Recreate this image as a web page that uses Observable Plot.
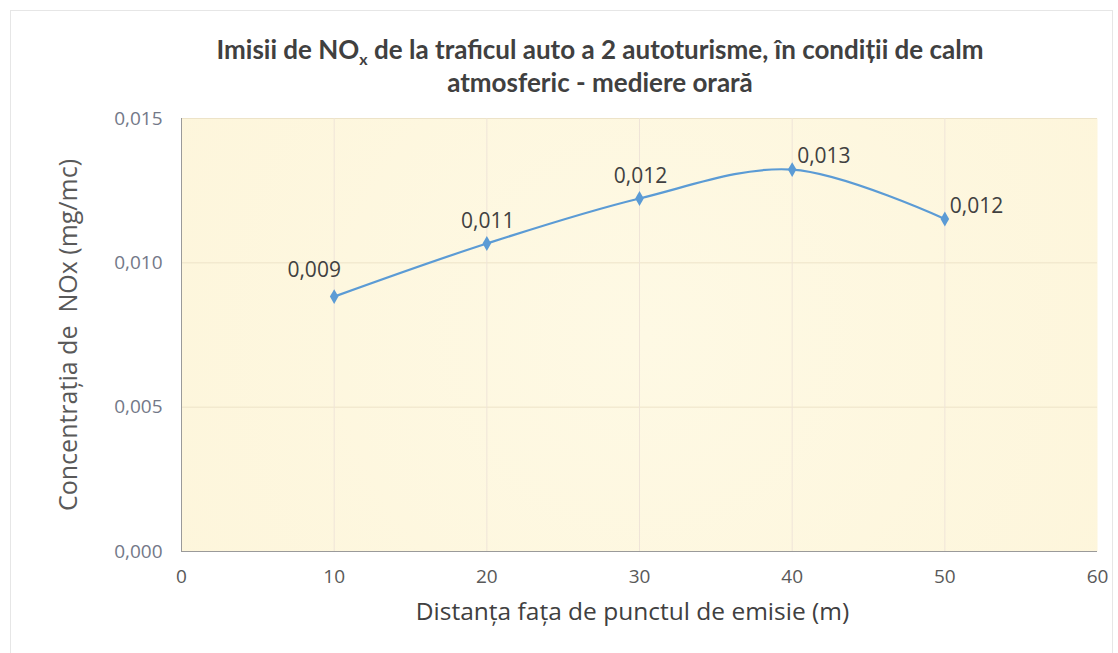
<!DOCTYPE html>
<html><head><meta charset="utf-8">
<script src="https://cdn.jsdelivr.net/npm/d3@7"></script>
<script src="https://cdn.jsdelivr.net/npm/@observablehq/plot@0.6"></script>
<style>
body{margin:0;background:#fff;width:1118px;height:653px;overflow:hidden;font-family:"Open Sans",sans-serif;position:relative;}
#frame{position:absolute;left:10px;top:10px;width:1103px;height:660px;border:1px solid #e6e6e6;box-sizing:border-box;}
#title{position:absolute;left:0;top:33px;width:1200px;text-align:center;font-family:Lato,sans-serif;font-weight:bold;font-size:26px;line-height:33px;color:#404040;}
#title sub{font-size:16px;vertical-align:-6px;line-height:0;}
#chart{position:absolute;left:0;top:105px;}
</style></head><body>
<div id="frame"></div>
<div id="title">Imisii de NO<sub>x</sub> de la traficul auto a 2 autoturisme, în condiții de calm<br>atmosferic - mediere orară</div>
<div id="chart"></div>
<script>
const distances = [10, 20, 30, 40, 50];
const concentrations = [0.00883, 0.01067, 0.01223, 0.01323, 0.01152];
const valueLabels = ["0,009", "0,011", "0,012", "0,013", "0,012"];
const xTicks = [0, 10, 20, 30, 40, 50, 60];
const yTicks = [0, 0.005, 0.010, 0.015];
const xTitle = "Distanța fața de punctul de emisie (m)";
const yTitle = "Concentrația de  NOx (mg/mc)";

const data = distances.map((x, i) => ({x, y: concentrations[i], label: valueLabels[i]}));
const fmtY = d => d3.format(".3f")(d).replace(".", ",");
const blue = "#5b9bd5";
const font = "'Open Sans', sans-serif";

const chart = Plot.plot({
  width: 1118,
  height: 548,
  marginTop: 13,
  marginBottom: 102,
  marginLeft: 181,
  marginRight: 21,
  style: {fontFamily: font, background: "transparent", overflow: "visible"},
  x: {domain: [0, 60]},
  y: {domain: [0, 0.015]},
  marks: [
    Plot.frame({fill: "url(#bgGrad)", stroke: "none"}),
    Plot.gridY(yTicks.filter(d => d > 0), {stroke: "#ede3c8", strokeOpacity: 1}),
    Plot.gridX(xTicks.filter(d => d > 0 && d < 60), {stroke: "#efe4d8", strokeOpacity: 1}),
    Plot.ruleX([0], {stroke: "#9a9a9a", strokeWidth: 1}),
    Plot.ruleY([0], {stroke: "#9a9a9a", strokeWidth: 1}),
    Plot.axisY({ticks: yTicks, tickFormat: fmtY, tickSize: 0, tickPadding: 19, fontSize: 19, fill: "#737888", label: null}),
    Plot.axisX({ticks: xTicks, tickFormat: d => String(d), tickSize: 0, tickPadding: 18, fontSize: 19, fill: "#595959", label: null}),
    Plot.text([yTitle], {frameAnchor: "left", textAnchor: "middle", lineAnchor: "middle", rotate: -90, dx: -113, fontSize: 25, fill: "#595959"}),
    Plot.text([xTitle], {frameAnchor: "bottom", textAnchor: "middle", lineAnchor: "middle", dx: -7, dy: 61, fontSize: 24.5, fill: "#404040"}),
    Plot.line(data, {x: "x", y: "y", curve: "catmull-rom", stroke: blue, strokeWidth: 2.2}),
    Plot.dot(data, {x: "x", y: "y", symbol: "diamond", r: 4.5, fill: blue, stroke: "none"}),
    Plot.text(data.filter(d => d.x === 10), {x: "x", y: "y", text: "label", dx: -20, dy: -26, fontSize: 21, fill: "#404040"}),
    Plot.text(data.filter(d => d.x === 20 || d.x === 30), {x: "x", y: "y", text: "label", dx: 1, dy: -22, fontSize: 21, fill: "#404040"}),
    Plot.text(data.filter(d => d.x >= 40), {x: "x", y: "y", text: "label", textAnchor: "start", dx: 5, dy: -13, fontSize: 21, fill: "#404040"})
  ]
});

const defs = document.createElementNS("http://www.w3.org/2000/svg", "defs");
defs.innerHTML = `<radialGradient id="bgGrad" gradientUnits="userSpaceOnUse" cx="640" cy="230" r="600">
  <stop offset="0" stop-color="#fef9e4"/>
  <stop offset="1" stop-color="#fdf5da"/>
</radialGradient>`;
chart.insertBefore(defs, chart.firstChild);
document.getElementById("chart").appendChild(chart);
</script>
</body></html>
